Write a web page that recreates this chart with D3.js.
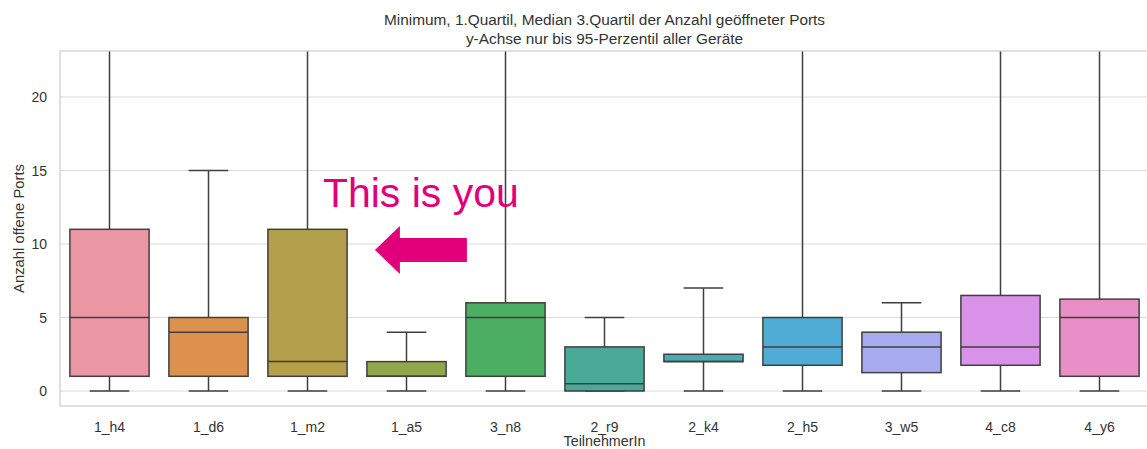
<!DOCTYPE html>
<html>
<head>
<meta charset="utf-8">
<script src="https://cdn.jsdelivr.net/npm/d3@7"></script>
<style>
  body { margin: 0; background: #fff; }
  text { font-family: "Liberation Sans", Arial, sans-serif; }
</style>
</head>
<body>
<svg id="chart" width="1147" height="449"></svg>
<script>
// participants and their box stats (whisker tops above the axis cut are just big numbers)
var teilnehmer = ["1_h4", "1_d6", "1_m2", "1_a5", "3_n8", "2_r9", "2_k4", "2_h5", "3_w5", "4_c8", "4_y6"]
var minimum = [0, 0, 0, 0, 0, 0, 0, 0, 0, 0, 0]
var quartil1 = [1, 1, 1, 1, 1, 0, 2, 1.75, 1.25, 1.75, 1]
var median = [5, 4, 2, 1, 5, 0.5, 2, 3, 3, 3, 5]
var quartil3 = [11, 5, 11, 2, 6, 3, 2.5, 5, 4, 6.5, 6.25]
var maximum = [40, 15, 40, 4, 40, 5, 7, 40, 6, 40, 40]
var farben = ["#eb96a3", "#dc924d", "#b39f4c", "#92a74a", "#4bae63", "#4aaa98",
              "#4ca9b5", "#50abd5", "#a7aaee", "#d893e8", "#e88fc8"]
var yTicks = [0, 5, 10, 15, 20]

var svg = d3.select("#chart")
var pLeft = 60, pRight = 1149, pTop = 51, pBottom = 406

var x = d3.scaleBand()
    .domain(teilnehmer)
    .range([pLeft, pRight])
    .paddingInner(0.2)
    .paddingOuter(0.1)

var y = d3.scaleLinear()
    .domain([-1.02, 23.13])
    .range([pBottom, pTop])

svg.append("defs").append("clipPath").attr("id", "plotclip")
    .append("rect")
    .attr("x", pLeft).attr("y", pTop)
    .attr("width", pRight - pLeft).attr("height", pBottom - pTop)

// grid
svg.append("g")
    .selectAll("line")
    .data(yTicks)
    .join("line")
    .attr("x1", pLeft).attr("x2", pRight)
    .attr("y1", d => y(d)).attr("y2", d => y(d))
    .attr("stroke", "#d9d9d9")
    .attr("stroke-width", 1)

var rows = teilnehmer.map((k, i) => ({
    key: k, lo: minimum[i], q1: quartil1[i], med: median[i], q3: quartil3[i], hi: maximum[i], color: farben[i]
}))

var step = x.step()
var boxW = x.bandwidth()
var edge = "#3f3f3f"

var boxes = svg.append("g")
    .attr("clip-path", "url(#plotclip)")
    .selectAll("g")
    .data(rows)
    .join("g")
    .attr("transform", d => "translate(" + (x(d.key) + boxW / 2) + ",0)")

// whiskers
boxes.append("line")
    .attr("x1", 0).attr("x2", 0)
    .attr("y1", d => y(d.q3)).attr("y2", d => y(d.hi))
    .attr("stroke", edge).attr("stroke-width", 1.5)
boxes.append("line")
    .attr("x1", 0).attr("x2", 0)
    .attr("y1", d => y(d.q1)).attr("y2", d => y(d.lo))
    .attr("stroke", edge).attr("stroke-width", 1.5)
boxes.append("line")
    .attr("x1", -boxW / 4).attr("x2", boxW / 4)
    .attr("y1", d => y(d.hi)).attr("y2", d => y(d.hi))
    .attr("stroke", edge).attr("stroke-width", 1.5)
boxes.append("line")
    .attr("x1", -boxW / 4).attr("x2", boxW / 4)
    .attr("y1", d => y(d.lo)).attr("y2", d => y(d.lo))
    .attr("stroke", edge).attr("stroke-width", 1.5)

boxes.append("rect")
    .attr("x", -boxW / 2)
    .attr("width", boxW)
    .attr("y", d => y(d.q3))
    .attr("height", d => y(d.q1) - y(d.q3))
    .attr("fill", d => d.color)
    .attr("stroke", edge).attr("stroke-width", 1.5)

boxes.append("line")
    .attr("x1", -boxW / 2).attr("x2", boxW / 2)
    .attr("y1", d => y(d.med)).attr("y2", d => y(d.med))
    .attr("stroke", edge).attr("stroke-width", 1.5)

// frame
svg.append("rect")
    .attr("x", pLeft).attr("y", pTop)
    .attr("width", pRight - pLeft).attr("height", pBottom - pTop)
    .attr("fill", "none")
    .attr("stroke", "#cccccc").attr("stroke-width", 1.2)

// y tick labels
svg.append("g")
    .selectAll("text")
    .data(yTicks)
    .join("text")
    .attr("x", pLeft - 13)
    .attr("y", d => y(d))
    .attr("dy", "0.36em")
    .attr("text-anchor", "end")
    .attr("font-size", 14)
    .attr("fill", "#333333")
    .text(d => d)

// x tick labels
svg.append("g")
    .selectAll("text")
    .data(teilnehmer)
    .join("text")
    .attr("x", d => x(d) + boxW / 2)
    .attr("y", pBottom + 26)
    .attr("text-anchor", "middle")
    .attr("font-size", 14)
    .attr("fill", "#333333")
    .text(d => d)

svg.append("text")
    .attr("x", (pLeft + pRight) / 2)
    .attr("y", 446)
    .attr("text-anchor", "middle")
    .attr("font-size", 14.3)
    .attr("fill", "#333333")
    .text("TeilnehmerIn")

svg.append("text")
    .attr("transform", "translate(24," + ((pTop + pBottom) / 2) + ") rotate(-90)")
    .attr("text-anchor", "middle")
    .attr("font-size", 14.8)
    .attr("fill", "#333333")
    .text("Anzahl offene Ports")

var title = svg.append("text")
    .attr("text-anchor", "middle")
    .attr("font-size", 15.4)
    .attr("fill", "#333333")
title.append("tspan").attr("x", (pLeft + pRight) / 2).attr("y", 25)
    .text("Minimum, 1.Quartil, Median 3.Quartil der Anzahl geöffneter Ports")
title.append("tspan").attr("x", (pLeft + pRight) / 2).attr("y", 44)
    .text("y-Achse nur bis 95-Perzentil aller Geräte")

// annotation next to 1_m2
var pink = "#e2007a"
var ax = x("1_m2") + boxW + 0.2 * step  // right of the box
svg.append("text")
    .attr("x", ax - 44)
    .attr("y", y(12.5))
    .attr("font-size", 41)
    .attr("fill", pink)
    .text("This is you")

var ay = y(9.6)
var tip = ax + 8
svg.append("path")
    .attr("d", d3.line()([
        [tip, ay], [tip + 25, ay - 24], [tip + 25, ay - 12], [tip + 92, ay - 12],
        [tip + 92, ay + 12], [tip + 25, ay + 12], [tip + 25, ay + 24]
    ]) + "Z")
    .attr("fill", pink)
</script>
</body>
</html>
